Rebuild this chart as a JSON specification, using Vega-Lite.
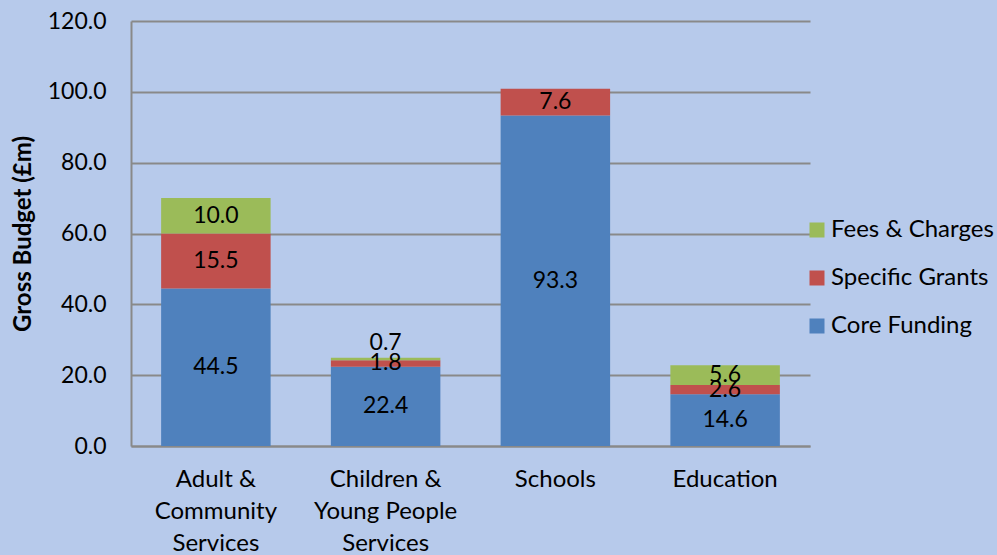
{
  "$schema": "https://vega.github.io/schema/vega-lite/v6.json",
  "width": 679,
  "height": 425,
  "autosize": {"type": "none"},
  "padding": {"left": 131, "top": 21, "right": 187, "bottom": 109},
  "background": "#b7caeb",
  "config": {
    "font": "Lato",
    "view": {"stroke": null},
    "axis": {"labelFont": "Lato", "titleFont": "Lato", "labelColor": "#000000", "titleColor": "#000000"}
  },
  "data": {
    "values": [
      {"service": "Adult & Community Services", "source": "Core Funding", "ord": 1, "value": 44.5},
      {"service": "Adult & Community Services", "source": "Specific Grants", "ord": 2, "value": 15.5},
      {"service": "Adult & Community Services", "source": "Fees & Charges", "ord": 3, "value": 10.0},
      {"service": "Children & Young People Services", "source": "Core Funding", "ord": 1, "value": 22.4},
      {"service": "Children & Young People Services", "source": "Specific Grants", "ord": 2, "value": 1.8},
      {"service": "Children & Young People Services", "source": "Fees & Charges", "ord": 3, "value": 0.7},
      {"service": "Schools", "source": "Core Funding", "ord": 1, "value": 93.3},
      {"service": "Schools", "source": "Specific Grants", "ord": 2, "value": 7.6},
      {"service": "Education", "source": "Core Funding", "ord": 1, "value": 14.6},
      {"service": "Education", "source": "Specific Grants", "ord": 2, "value": 2.6},
      {"service": "Education", "source": "Fees & Charges", "ord": 3, "value": 5.6}
    ]
  },
  "transform": [
    {"stack": "value", "groupby": ["service"], "sort": [{"field": "ord", "order": "ascending"}], "as": ["v0", "v1"]},
    {"calculate": "(datum.v0 + datum.v1) / 2", "as": "mid"}
  ],
  "encoding": {
    "x": {
      "field": "service", "type": "nominal",
      "sort": ["Adult & Community Services", "Children & Young People Services", "Schools", "Education"],
      "scale": {"paddingInner": 0.355, "paddingOuter": 0.1775},
      "axis": {
        "title": null, "labelAngle": 0, "labelFontSize": 24, "labelPadding": 21,
        "labelLineHeight": 32, "labelBaseline": "top",
        "ticks": false, "domainColor": "#898989", "domainWidth": 2,
        "labelExpr": "datum.label == 'Adult & Community Services' ? ['Adult &', 'Community', 'Services'] : datum.label == 'Children & Young People Services' ? ['Children &', 'Young People', 'Services'] : datum.label"
      }
    }
  },
  "layer": [
    {
      "mark": {"type": "bar"},
      "encoding": {
        "y": {
          "field": "v1", "type": "quantitative",
          "scale": {"domain": [0, 120]},
          "axis": {
            "title": "Gross Budget (£m)", "titleFontSize": 24, "titleFontWeight": "bold", "titlePadding": 12,
            "values": [0, 20, 40, 60, 80, 100, 120], "format": ".1f",
            "labelFontSize": 23, "labelPadding": 25, "ticks": false,
            "gridColor": "#898989", "gridWidth": 2, "domainColor": "#898989", "domainWidth": 2
          }
        },
        "y2": {"field": "v0"},
        "color": {
          "field": "source", "type": "nominal",
          "scale": {"domain": ["Fees & Charges", "Specific Grants", "Core Funding"], "range": ["#9bbb59", "#c0504d", "#4f81bd"]},
          "legend": {
            "title": null, "orient": "none", "legendX": 674, "legendY": 197,
            "labelFontSize": 24, "labelFont": "Lato", "labelLimit": 400, "symbolType": "square", "symbolSize": 225,
            "symbolStrokeWidth": 0, "rowPadding": 24, "labelOffset": 2, "labelColor": "#000000"
          }
        }
      }
    },
    {
      "transform": [{"filter": "datum.value >= 1"}],
      "mark": {"type": "text", "fontSize": 23, "color": "#000000", "baseline": "middle"},
      "encoding": {
        "y": {"field": "mid", "type": "quantitative"},
        "text": {"field": "value", "type": "quantitative", "format": ".1f"}
      }
    },
    {
      "transform": [{"filter": "datum.value < 1"}],
      "mark": {"type": "text", "fontSize": 23, "color": "#000000", "baseline": "middle", "dy": -16},
      "encoding": {
        "y": {"field": "mid", "type": "quantitative"},
        "text": {"field": "value", "type": "quantitative", "format": ".1f"}
      }
    }
  ]
}
